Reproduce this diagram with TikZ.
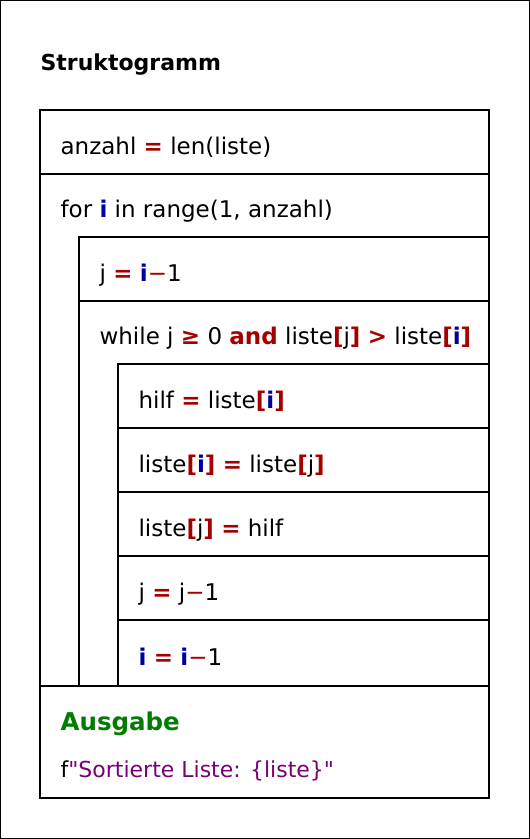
\documentclass[tikz,border=0pt]{standalone}
\usepackage{fontspec}
\setmainfont{DejaVu Sans}[Ligatures=TeXOff]
\definecolor{kred}{RGB}{165,0,0}
\definecolor{kblue}{RGB}{0,0,160}
\definecolor{kgreen}{RGB}{0,125,0}
\definecolor{kpurple}{RGB}{120,0,120}
\newcommand\opr[1]{\textcolor{kred}{\textbf{#1}}}
\newcommand\vii{\textcolor{kblue}{\textbf{i}}}
\newcommand\mns{\textcolor{kred}{−}}
\begin{document}
\begin{tikzpicture}[x=1pt,y=-1pt,line width=1.2pt,
  txt/.style={anchor=base west,inner sep=0pt,font=\fontsize{23}{27}\selectfont},
  ttl/.style={anchor=base west,inner sep=0pt,font=\fontsize{22}{26}\selectfont\bfseries}]
\useasboundingbox (0,0) rectangle (530,839);
\draw (0.6,0.6) rectangle (529.4,838.4);
\node[ttl] (title) at (40,70) {Struktogramm};
% frame
\draw (40,110) rectangle (489,798);
\draw (40,174) -- (489,174);
\draw (79,686) -- (79,237) -- (489,237);
\draw (79,301) -- (489,301);
\draw (118,686) -- (118,364) -- (489,364);
\draw (118,428) -- (489,428);
\draw (118,492) -- (489,492);
\draw (118,556) -- (489,556);
\draw (118,620) -- (489,620);
\draw (40,686) -- (489,686);
% texts
\node[txt] (r1) at (60,154) {anzahl \opr{=} len(liste)};
\node[txt] (r2) at (60,217.5) {for \vii{} in range(1, anzahl)};
\node[txt] (r3) at (99,281) {j \opr{=} \vii\mns1};
\node[txt] (r4) at (99,344.5) {while j \opr{≥} 0 \opr{and} liste\opr{[}j\opr{]} \opr{>} liste\opr{[}\vii\opr{]}};
\node[txt] (r5) at (138,408) {hilf \opr{=} liste\opr{[}\vii\opr{]}};
\node[txt] (r6) at (138,472) {liste\opr{[}\vii\opr{]} \opr{=} liste\opr{[}j\opr{]}};
\node[txt] (r7) at (138,536) {liste\opr{[}j\opr{]} \opr{=} hilf};
\node[txt] (r8) at (138,600) {j \opr{=} j\mns1};
\node[txt] (r9) at (138,665) {\vii{} \opr{=} \vii\mns1};
\node[txt,font=\fontsize{24.5}{28}\selectfont\bfseries,text=kgreen] (out) at (60,730) {Ausgabe};
\node[txt,font=\fontsize{22}{26}\selectfont] (outs) at (60,777) {f\textcolor{kpurple}{"Sortierte Liste: \{liste\}"}};
\end{tikzpicture}
\end{document}
